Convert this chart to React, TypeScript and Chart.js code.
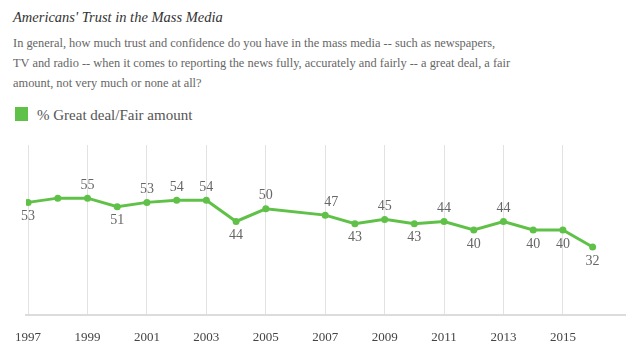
import React, { useEffect, useRef } from "react";
import { Chart, registerables } from "chart.js";

Chart.register(...registerables);

const years = [1997, 1998, 1999, 2000, 2001, 2002, 2003, 2004, 2005, 2007, 2008, 2009, 2010, 2011, 2012, 2013, 2014, 2015, 2016];
const values = [53, 55, 55, 51, 53, 54, 54, 44, 50, 47, 43, 45, 43, 44, 40, 44, 40, 40, 32];
const labelSides = ["below", "none", "above", "below", "above", "above", "above", "below", "above", "above", "below", "above", "below", "above", "below", "above", "below", "below", "below"];
const tickYears = [1997, 1999, 2001, 2003, 2005, 2007, 2009, 2011, 2013, 2015];

const titleText = "Americans' Trust in the Mass Media";
const subtitleLines = [
  "In general, how much trust and confidence do you have in the mass media -- such as newspapers,",
  "TV and radio -- when it comes to reporting the news fully, accurately and fairly -- a great deal, a fair",
  "amount, not very much or none at all?",
];
const seriesName = "% Great deal/Fair amount";

const GREEN = "#60c148";
const SERIF = "'Liberation Serif', serif";

const valueLabels = {
  id: "valueLabels",
  afterDatasetsDraw(chart: any) {
    const ctx = chart.ctx;
    const meta = chart.getDatasetMeta(0);
    ctx.save();
    ctx.font = `14px ${SERIF}`;
    ctx.fillStyle = "#666";
    ctx.textAlign = "center";
    ctx.textBaseline = "middle";
    meta.data.forEach((pt: any, i: number) => {
      const side = labelSides[i];
      if (side === "none") return;
      const dy = side === "above" ? -13 : 14;
      const dx = years[i] === 2007 ? 6 : 0;
      ctx.fillText(String(values[i]), pt.x + dx, pt.y + dy);
    });
    ctx.restore();
  },
};

export default function App() {
  const ref = useRef<HTMLCanvasElement>(null);
  useEffect(() => {
    if (!ref.current) return;
    const chart = new Chart(ref.current, {
      type: "line",
      data: {
        datasets: [
          {
            label: seriesName,
            data: years.map((y, i) => ({ x: y, y: values[i] })),
            borderColor: GREEN,
            backgroundColor: GREEN,
            borderWidth: 3,
            pointRadius: 3.5,
            pointBackgroundColor: GREEN,
            pointBorderWidth: 0,
            tension: 0,
          },
        ],
      },
      options: {
        animation: false,
        responsive: false,
        layout: { padding: { left: 26, right: 15, top: 145, bottom: 0 } },
        plugins: {
          legend: { display: false },
          title: { display: false },
          tooltip: { enabled: false },
        },
        scales: {
          x: {
            type: "linear",
            min: 1996.93,
            max: 2017.09,
            afterBuildTicks: (scale: any) => {
              scale.ticks = tickYears.map((v) => ({ value: v }));
            },
            afterFit: (scale: any) => {
              scale.height = 39;
            },
            grid: { color: "#e2e2e2", lineWidth: 1, drawTicks: false },
            border: { color: "#dcdcdc", width: 2 },
            ticks: {
              padding: 15,
              color: "#444",
              font: { family: SERIF, size: 13 },
              maxRotation: 0,
              autoSkip: false,
              callback: (v: any) => String(v),
            },
          },
          y: {
            display: false,
            min: 0,
            max: 80,
          },
        },
      },
      plugins: [valueLabels],
    });
    return () => chart.destroy();
  }, []);

  return (
    <div style={{ position: "fixed", left: 0, top: 0, width: 640, height: 354, background: "#fff", fontFamily: SERIF }}>
      <div style={{ position: "absolute", left: 13, top: 10, fontSize: 14.5, lineHeight: "14.5px", fontStyle: "italic", color: "#333", whiteSpace: "nowrap" }}>
        {titleText}
      </div>
      <div style={{ position: "absolute", left: 13, top: 32.8, fontSize: 12.4, lineHeight: "20px", color: "#666", whiteSpace: "nowrap" }}>
        {subtitleLines.map((l, i) => (
          <div key={i}>{l}</div>
        ))}
      </div>
      <span style={{ position: "absolute", left: 15, top: 107, width: 13, height: 14, background: GREEN }} />
      <div style={{ position: "absolute", left: 37, top: 107.5, fontSize: 15, lineHeight: "15px", color: "#555", whiteSpace: "nowrap" }}>
        {seriesName}
      </div>
      <canvas ref={ref} width={640} height={354} style={{ position: "absolute", left: 0, top: 0 }} />
    </div>
  );
}
